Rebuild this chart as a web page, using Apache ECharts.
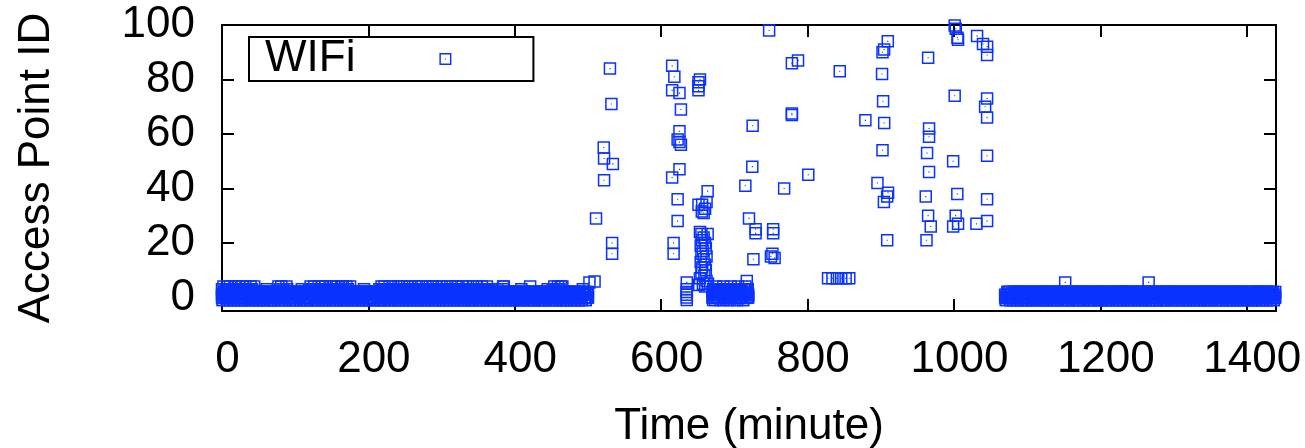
<!DOCTYPE html>
<html><head><meta charset="utf-8">
<script src="https://cdn.jsdelivr.net/npm/echarts@6/dist/echarts.min.js"></script>
<style>html,body{margin:0;padding:0;background:#fff}#c{width:1305px;height:448px}</style>
</head><body><div id="c"></div>
<script>
const seriesName = 'WIFi';
const xTicks = [0, 200, 400, 600, 800, 1000, 1200, 1400];
const yTicks = [0, 20, 40, 60, 80, 100];

// Dense bands: access-point IDs seen each minute, starting at the given minute
// ('-' means -1, '.' means no reading in that scan).
const bandLeftStart = 0;
const bandLeftA = `
0-12013-01 2-01210-14 01-2102-10 -201231-21 120-2101-0
2-10120-21 03-2012-10 1-20102-12 0-21021-41 21-0210-12
-012102-13 20-1201-21 0-12210-01 12-0130-21 -210102-01
10-2012-12 2-01241-20 01-2210-01 -120120-21 2-01312-10
0-21201-02 12-0210-13 -102102-01 21-0120-10 0-12021-21
1-20120-01 02-1301-12 2-10210-21 -012012-40 10-2102-01
21-0102-12 0-21201-20 13-0210-01 -201021-12 0-10212-31
2-01210-21 10-2012-10 0-12013-01 2-01410-12 01-2102-10
-201201-23 120-2101-0 2-10120-21 01-2012-10 1-20132-12
0-21021-01 21-0240-12 -012102-10 20-1201-21 0-13210-01
2`;
const bandLeftB = `
1-02102-10 0-21012-21 2-10231-02 10-2102-01 -021201-12
0-12102-20 21-0201-12 -201012-01 1-20201-13 02-1021-20
2-01201-12 10-2012-01 0-21102-20 -120201-01 21-0102-21
1-20210-02 02-1012-21 -012201-10 20-1201-02 1-02012-20
0-12201-10 21-0102-02 1-21020-12 -201102-21 02-1210-01
2-10102-21 0-12021-10 12-0201-02 -120210-12 2-01102-20
10-2201-01 2-01012-21 0-20121-10 21-0102-02 -102201-21
0-21102-10 12-0210-02 1-02102-10 0-21312-21 2-10201-02
10-2102-01 -021201-12 0-12102-20 21-0201-12 -201012-01
1-20201-10 02-1021-20 2-01201-12 10-2012-01 0-21102-20
0`;
const bandLeftC = `
3.4..3.4.3 .4..3.3.4. 3..4.3..4. 3.4..3.3.4 .3..4.....
.......... .......... .......4.3 .4..3..... ..........
.......... .........3 .4..3.4..3 ..4.3..4.3 .4..3.3..4
.3.4..3.4. 3..4.3..3. 4.3..4.... .......... ..........
.......... .....3..4. 3.4..3.3.4 .3..4.3..3 .4.3..4.3.
3..4.3.4.3 ..3.4..3.4 .3..4.3..3 .4.3..3.4. 3..4.3..3.
4.3..3.4.3 ..4.3..3.4 .3.4..3..4 .3..3.4.3. 3..4.3..4.
3.3..4.3.3 ..4.3..3.. .......... .....4.... ..........
.......... .......... .4........ .......... ..........
..3.4..3.4 .3.4...... .......... .......... ..........`;
const bandMidStart = 670;
const bandMidA = `0312-41203 2-13042031 1032-40213 3-20143102 20-1342031`;
const bandMidB = `2-03120132 0213-20130 3-10231023 1203-10230 02-1302130`;
const bandRightStart = 1070;
const bandRightA = `
0-12012-01 2-01210-12 01-2102-10 -201201-21 120-2101-0
2-10120-21 01-2012-10 1-20102-12 0-21021-01 21-0210-12
-012102-10 20-1201-21 0-12210-01 12-0120-21 -210102-01
10-2012-12 2-01201-20 01-2210-01 -120120-21 2-01012-10
0-21201-02 12-0210-12 -102102-01 21-0120-10 0-12021-21
1-20120-01 02-1201-12 2-10210-21 -012012-10 10-2102-01
21-0102-12 0-21201-20 12-0210-01 -201021-12 0-10212-01
2-01210-21 10-2012-10`;
const bandRightB = `
1-02102-10 0-21012-21 2-10201-02 10-2102-01 -021201-12
0-12102-20 21-0201-12 -201012-01 1-20201-10 02-1021-20
2-01201-12 10-2012-01 0-21102-20 -120201-01 21-0102-21
1-20210-02 02-1012-21 -012201-10 20-1201-02 1-02012-20
0-12201-10 21-0102-02 1-21020-12 -201102-21 02-1210-01
2-10102-21 0-12021-10 12-0201-02 -120210-12 2-01102-20
10-2201-01 2-01012-21 0-20121-10 21-0102-02 -102201-21
0-21102-10 12-0210-02`;

// Scattered points (minute, AP ID)
const scatterX = [502, 509, 511, 521.5, 522, 522, 530, 532, 534, 533, 533,
  615, 618, 615, 625, 627, 625, 622.5, 625, 627, 625, 615, 622.5, 622.5, 617, 617,
  635, 635, 635, 635, 635, 635,
  653, 651, 651, 651,
  663.5, 651, 656, 662, 660, 655.5, 658,
  655, 663.5, 653, 658, 656, 660, 654, 661, 657, 655, 662, 658, 654, 660, 656, 661, 655, 659, 653, 662, 657, 660, 664, 652,
  747.5, 725, 724.5, 715, 720, 729, 729, 753, 753, 726, 750, 755, 752, 717,
  768, 778.6, 787, 778.6, 778.6, 801, 844, 879,
  828, 834, 840, 846, 852, 857,
  909.6, 904.6, 902.4, 901.8, 903.2, 904.7, 902.4, 895.5, 910, 908.8, 904.3, 908.8,
  964.7, 966, 966, 963.3, 966, 961.5, 964.7, 968.3, 962.5,
  1001, 1002.5, 1004.8, 1005.6, 1031.6, 1039.7, 1045.3, 1045.3, 1001, 1045.3, 1042.6, 1045.3, 998.9, 1045.3, 1004.6, 1045.3, 1002.4, 1005.6, 998.9, 1030.7, 1045.3,
  1152, 1266];
const scatterY = [5.5, 5.8, 29, 55, 51, 43, 84, 71, 49, 20, 16,
  85, 81, 76, 75, 69, 61, 58, 57, 56, 47, 44, 36, 28, 20, 16,
  5.5, 3, 2, 1, 0, -1,
  80, 79, 77.5, 76,
  39, 34, 34, 35, 32.5, 31.5, 31,
  23.3, 23.3, 24, 22, 21, 20, 19, 18, 17, 16, 15, 14, 13, 12, 11, 10, 9, 8, 7, 6, 5, 4, 5, 4.5,
  98, 63, 48, 41, 29, 25, 23.5, 25, 23.5, 14, 15, 14.5, 16, 6,
  40, 86, 87, 67.5, 67, 45, 83, 65,
  7, 7, 7, 7, 7, 7,
  94, 91, 90, 82, 72, 64, 54, 42, 38.4, 37, 35, 21,
  88, 62, 59, 53, 46, 37, 30, 26, 21,
  99.8, 98.6, 95.3, 94.6, 96, 93, 92, 89, 74, 73, 70, 66, 50, 52, 38, 36, 30, 27, 26, 27, 28,
  5.5, 5.5];

function parseBand(start, s) {
  const v = s.replace(/\s+/g, '');
  const out = [];
  for (let i = 0; i < v.length; i++) {
    if (v[i] === '.') continue;
    out.push([start + i, v[i] === '-' ? -1 : Number(v[i])]);
  }
  return out;
}
const points = []
  .concat(parseBand(bandLeftStart, bandLeftA))
  .concat(parseBand(bandLeftStart, bandLeftB))
  .concat(parseBand(bandLeftStart, bandLeftC))
  .concat(parseBand(bandMidStart, bandMidA))
  .concat(parseBand(bandMidStart, bandMidB))
  .concat(parseBand(bandRightStart, bandRightA))
  .concat(parseBand(bandRightStart, bandRightB))
  .concat(scatterX.map((x, i) => [x, scatterY[i]]));

const FONT = '"Liberation Sans", Arial, Helvetica, sans-serif';
const BLUE = '#0a32ff';
const SQUARE = 'path://M0,0H125V125H0Z M15,15V110H110V15Z M57,57H68V68H57Z';

const lineStyle = { color: '#000', width: 2 };
const tickStyle = { color: '#000', width: 2 };
const fmt = v => String(v);

const chart = echarts.init(document.getElementById('c'), null, { renderer: 'canvas' });
chart.setOption({
  animation: false,
  backgroundColor: '#fff',
  textStyle: { fontFamily: FONT },
  grid: { left: 222, top: 25, width: 1054, height: 286, containLabel: false, outerBoundsMode: 'none' },
  legend: {
    left: 249, top: 37,
    align: 'right',
    padding: [0, 82, 0, 16],
    borderColor: '#000', borderWidth: 2, borderRadius: 0,
    backgroundColor: '#fff',
    itemWidth: 170, itemHeight: 12,
    textStyle: { fontSize: 44, color: '#000', fontFamily: FONT, lineHeight: 44 },
    data: [{ name: seriesName }]
  },
  xAxis: [{
    type: 'value', min: 0, max: 1440, position: 'bottom',
    name: 'Time (minute)', nameLocation: 'middle', nameGap: 94,
    nameTextStyle: { fontSize: 44, color: '#000', fontFamily: FONT },
    axisLine: { show: true, onZero: false, lineStyle },
    axisTick: { show: true, inside: true, length: 12, lineStyle: tickStyle, customValues: xTicks },
    axisLabel: { show: true, fontSize: 44, color: '#000', fontFamily: FONT, margin: 27, padding: [0, 0, 0, 11], customValues: xTicks, formatter: fmt },
    splitLine: { show: false }
  }, {
    type: 'value', min: 0, max: 1440, position: 'top',
    axisLine: { show: true, onZero: false, lineStyle },
    axisTick: { show: true, inside: true, length: 12, lineStyle: tickStyle, customValues: xTicks },
    axisLabel: { show: false },
    splitLine: { show: false }
  }],
  yAxis: [{
    type: 'value', min: -5, max: 100, position: 'left',
    name: 'Access Point ID', nameLocation: 'middle', nameGap: 163,
    nameTextStyle: { fontSize: 44, color: '#000', fontFamily: FONT },
    axisLine: { show: true, onZero: false, lineStyle },
    axisTick: { show: true, inside: true, length: 12, lineStyle: tickStyle, customValues: yTicks },
    axisLabel: { show: true, fontSize: 44, color: '#000', fontFamily: FONT, margin: 27, customValues: yTicks, formatter: fmt },
    splitLine: { show: false }
  }, {
    type: 'value', min: -5, max: 100, position: 'right',
    axisLine: { show: true, onZero: false, lineStyle },
    axisTick: { show: true, inside: true, length: 12, lineStyle: tickStyle, customValues: yTicks },
    axisLabel: { show: false },
    splitLine: { show: false }
  }],
  series: [{
    name: seriesName,
    type: 'scatter',
    xAxisIndex: 0, yAxisIndex: 0,
    symbol: SQUARE,
    symbolSize: 12.5,
    clip: false,
    large: false,
    largeThreshold: 1000000,
    progressive: 0,
    itemStyle: { color: BLUE, opacity: 1 },
    emphasis: { disabled: true },
    data: points
  }]
});
</script>
</body></html>
